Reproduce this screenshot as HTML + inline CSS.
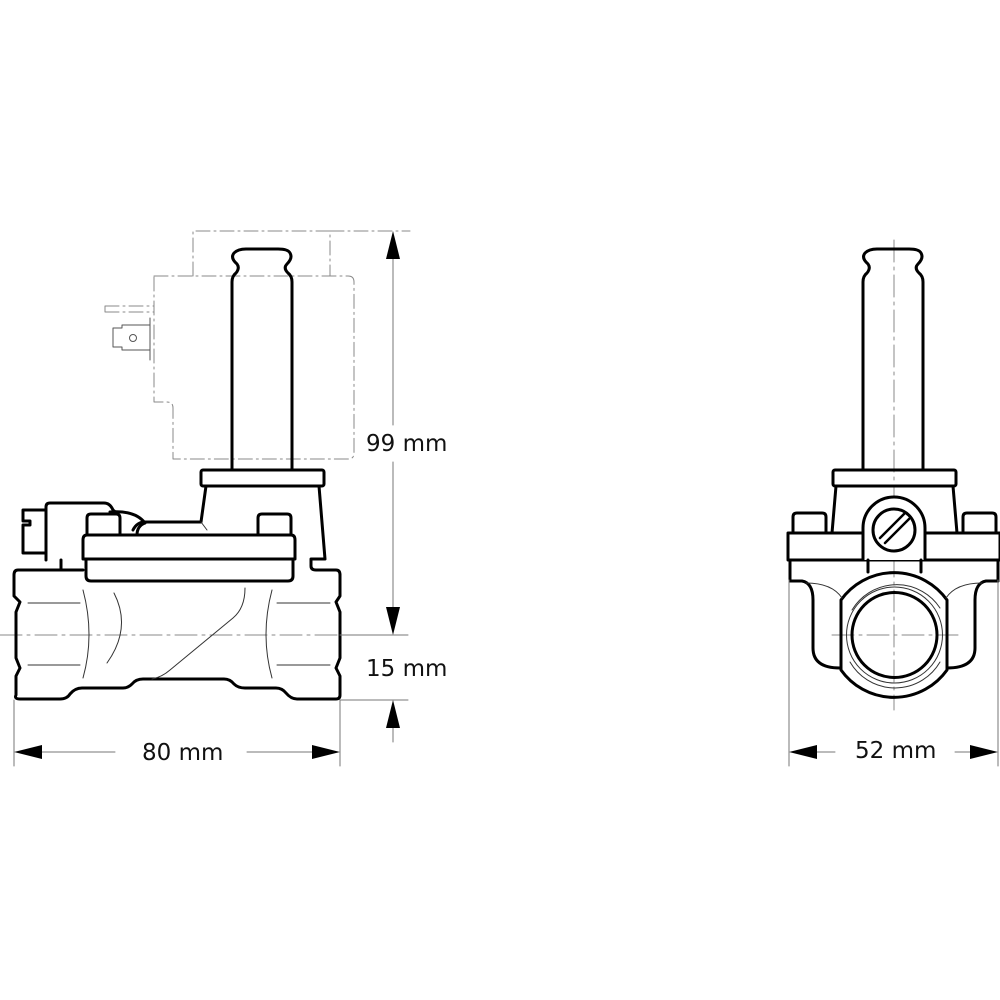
<!DOCTYPE html>
<html><head><meta charset="utf-8"><style>
html,body{margin:0;padding:0;background:#fff;}
svg{display:block;}
text{font-family:"DejaVu Sans","Liberation Sans",sans-serif;font-size:23px;fill:#111;}
</style></head><body>
<svg width="1000" height="1000" viewBox="0 0 1000 1000" xmlns="http://www.w3.org/2000/svg">
<g fill="none" stroke-linejoin="round" stroke-linecap="round">

<!-- centerlines -->
<g stroke="#888" stroke-width="1" stroke-dasharray="22,5,3,5">
<line x1="0" y1="635" x2="408" y2="635"/>
<line x1="894" y1="240" x2="894" y2="710"/>
<line x1="832" y1="635" x2="958" y2="635"/>
</g>

<!-- coil dashed -->
<g stroke="#888" stroke-width="1" stroke-dasharray="14,4,2,4">
<path d="M193,276 V231 H330 V276"/>
<path d="M154,276 H348 Q354,276 354,282 V453 Q354,459 348,459 H173 V408 Q173,402 167,402 H154 Z"/>
<path d="M105,306 H154 M105,312 H154 M105,306 V312"/>
<line x1="330" y1="231" x2="410" y2="231"/>
</g>
<g stroke="#555" stroke-width="1">
<path d="M113,328 H122 V325 H150 V350 H122 V347 H113 Z"/>
<circle cx="133" cy="338" r="3.5"/>
<path d="M150,318 V360"/>
</g>

<!-- LEFT VIEW main -->
<g stroke="#000" stroke-width="3">
<!-- tube & cap -->
<path d="M232,470 V282 Q232,276 236,273 Q240,268 237,264 Q230,258 234,253 Q238,249 246,249 H278 Q288,249 290,253 Q293,258 287,264 Q283,268 288,273 Q292,276 292,282 V470"/>
<!-- top rect -->
<rect x="201" y="470" width="123" height="16" rx="2"/>
<!-- bonnet -->
<path d="M206,486 L201,522 H145 Q137,522 133,530 M319,486 L325,559 H311 V566 Q311,570 316,570 H336 Q340,570 340,575"/>
<!-- gland -->
<path d="M110,512 Q135,510 145,523 M137,535 Q137,526 145,523"/>
<!-- connector -->
<path d="M46,560 V507 Q46,503 50,503 H104 Q110,503 113,510 L118,514"/>
<path d="M46,510 H23 V521 H30 V525 H23 V553 H46"/>
<line x1="61" y1="560" x2="61" y2="570"/>
<!-- bolts -->
<path d="M87,535 V518 Q87,514 91,514 H116 Q120,514 120,518 V535"/>
<path d="M258,535 V518 Q258,514 262,514 H287 Q291,514 291,518 V535"/>
<!-- plates -->
<path d="M87,535 H291 Q295,535 295,540 V559 H83 V540 Q83,535 87,535 Z"/>
<path d="M86,559 V576 Q86,581 91,581 H288 Q293,581 293,576 V559"/>
<!-- body -->
<path d="M83,570 H18 Q14,570 14,575 V596 L20,602 L16,612 V658 L20,668 L16,676 V695 Q14,699 20,699 H60 Q67,699 70,694 Q75,688 82,688 H123 Q128,688 132,684 Q136,679 143,679 H224 Q230,679 234,684 Q238,688 245,688 H276 Q282,688 286,693 Q291,699 297,699 H336 Q340,699 340,695 V676 L336,668 L340,658 V612 L336,602 L340,596 V575"/>
</g>
<!-- thin internal body lines -->
<g stroke="#333" stroke-width="1">
<line x1="28" y1="603" x2="80" y2="603"/>
<line x1="28" y1="665" x2="80" y2="665"/>
<line x1="277" y1="603" x2="330" y2="603"/>
<line x1="277" y1="665" x2="330" y2="665"/>
<path d="M83,590 Q95,635 83,678"/>
<path d="M114,593 Q132,628 107,663"/>
<path d="M272,590 Q260,635 272,678"/>
<path d="M245,588 Q245,608 233,618 L170,670 Q162,677 152,679"/>
<path d="M201,522 L207,530"/>
</g>

<!-- RIGHT VIEW -->
<g stroke="#000" stroke-width="3">
<path d="M863,470 V282 Q863,276 867,273 Q871,268 868,264 Q861,258 865,253 Q869,249 877,249 H909 Q919,249 921,253 Q924,258 918,264 Q914,268 919,273 Q923,276 923,282 V470"/>
<rect x="833" y="470" width="123" height="16" rx="2"/>
<path d="M836,486 L832,533 M953,486 L957,533"/>
<path d="M793,533 V517 Q793,513 797,513 H822 Q826,513 826,517 V533"/>
<path d="M963,533 V517 Q963,513 967,513 H992 Q996,513 996,517 V533"/>
<rect x="788" y="533" width="212" height="27"/>
<path d="M790,560 V581 M998,560 V581"/>
<path d="M790,581 H802 Q813,583 813,600 V648 Q813,668 840,668"/>
<path d="M998,581 H986 Q975,583 975,600 V648 Q975,668 947,668"/>
<!-- boss -->
<path d="M863,560 V528 A31,31 0 0 1 925,528 V560" fill="#fff"/>
<line x1="868" y1="560" x2="868" y2="572"/>
<line x1="921" y1="560" x2="921" y2="572"/>
<circle cx="894" cy="530" r="21"/>
<path d="M880,538 L904,514 M885,543 L909,519" stroke-width="2.5"/>
<!-- port -->
<path d="M841,600 A65,65 0 0 1 947,600 V670 A65,65 0 0 1 841,670 Z"/>
<circle cx="894.5" cy="635" r="42.5"/>
</g>
<g stroke="#333" stroke-width="1">
<circle cx="894.5" cy="635" r="48"/>
<path d="M852,610 A52,52 0 0 1 940,608 M940,662 A52,52 0 0 1 850,662"/>
<path d="M806,583 Q832,583 842,598 M982,583 Q956,583 946,598"/>
</g>

<!-- dimensions -->
<g stroke="#777" stroke-width="1">
<line x1="393" y1="255" x2="393" y2="425"/>
<line x1="393" y1="462" x2="393" y2="610"/>
<line x1="340" y1="635" x2="408" y2="635"/>
<line x1="340" y1="700" x2="408" y2="700"/>
<line x1="393" y1="725" x2="393" y2="742"/>
<line x1="14" y1="700" x2="14" y2="766"/>
<line x1="340" y1="700" x2="340" y2="766"/>
<line x1="40" y1="752" x2="115" y2="752"/>
<line x1="247" y1="752" x2="315" y2="752"/>
<line x1="789" y1="580" x2="789" y2="766"/>
<line x1="998" y1="580" x2="998" y2="766"/>
<line x1="815" y1="752" x2="835" y2="752"/>
<line x1="955" y1="752" x2="972" y2="752"/>
</g>
</g>
<g fill="#000">
<polygon points="393,231 386,259 400,259"/>
<polygon points="393,635 386,607 400,607"/>
<polygon points="393,700 386,728 400,728"/>
<polygon points="14,752 42,745 42,759"/>
<polygon points="340,752 312,745 312,759"/>
<polygon points="789,752 817,745 817,759"/>
<polygon points="998,752 970,745 970,759"/>
</g>
<text x="366" y="451">99 mm</text>
<text x="366" y="676">15 mm</text>
<text x="142" y="760">80 mm</text>
<text x="855" y="758">52 mm</text>
</svg>
</body></html>
